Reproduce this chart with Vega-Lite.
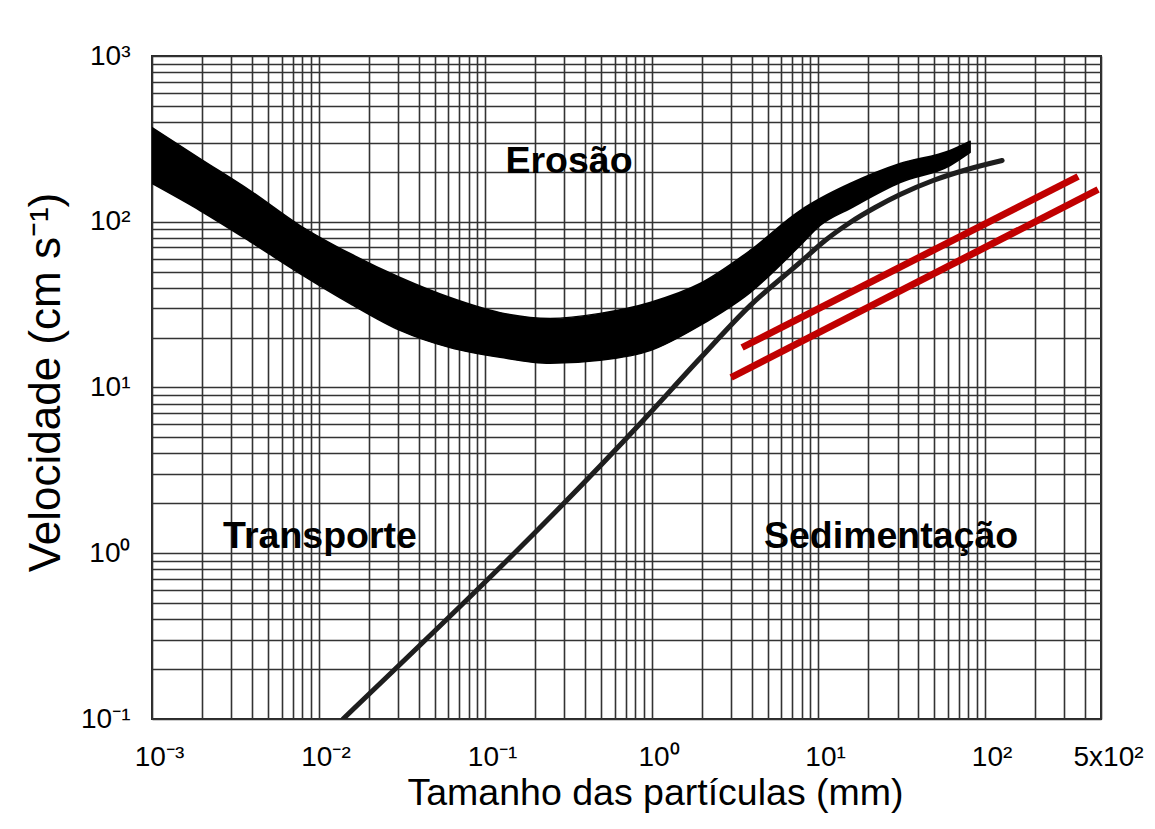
{
  "$schema": "https://vega.github.io/schema/vega-lite/v6.json",
  "autosize": {"type": "none"},
  "padding": {"left": 152, "top": 56, "right": 54, "bottom": 110},
  "width": 949,
  "height": 663,
  "background": "white",
  "config": {
    "view": {"stroke": "#2a2a2a", "strokeWidth": 2},
    "font": "Liberation Sans",
    "axis": {
      "domain": false,
      "ticks": false,
      "grid": true,
      "gridColor": "#333333",
      "gridWidth": 1.6,
      "gridOpacity": 1,
      "labelFont": "Liberation Sans",
      "labelColor": "#000000",
      "labelOverlap": false,
      "labelFlush": false,
      "labelBound": false,
      "titleFont": "Liberation Sans",
      "titleFontWeight": "normal",
      "titleColor": "#000000"
    }
  },
  "datasets": {
    "band": [
      {"d": 0.001, "lo": 170.1, "hi": 370.3},
      {"d": 0.00194, "lo": 116.9, "hi": 240.7},
      {"d": 0.00388, "lo": 76.0, "hi": 154.3},
      {"d": 0.00774, "lo": 48.7, "hi": 94.9},
      {"d": 0.01546, "lo": 32.1, "hi": 64.3},
      {"d": 0.03087, "lo": 22.1, "hi": 46.1},
      {"d": 0.06163, "lo": 17.4, "hi": 34.9},
      {"d": 0.1231, "lo": 15.2, "hi": 28.3},
      {"d": 0.2457, "lo": 14.0, "hi": 26.1},
      {"d": 0.4906, "lo": 14.6, "hi": 28.0},
      {"d": 0.9795, "lo": 16.7, "hi": 32.6},
      {"d": 1.956, "lo": 23.7, "hi": 42.4},
      {"d": 3.905, "lo": 37.4, "hi": 67.1},
      {"d": 7.797, "lo": 71.9, "hi": 116.9},
      {"d": 10.28, "lo": 94.9, "hi": 138.1},
      {"d": 15.57, "lo": 120.2, "hi": 170.1},
      {"d": 31.09, "lo": 172.5, "hi": 224.6},
      {"d": 62.07, "lo": 218.5, "hi": 269.1},
      {"d": 81.86, "lo": 262.0, "hi": 306.0}
    ],
    "sed": [
      {"d": 0.01403, "v": 0.1},
      {"d": 0.889, "v": 6.32},
      {"d": 1.956, "v": 15.0},
      {"d": 3.905, "v": 31.2},
      {"d": 7.797, "v": 56.8},
      {"d": 11.02, "v": 77.1},
      {"d": 15.57, "v": 99.0},
      {"d": 22.0, "v": 121.9},
      {"d": 31.09, "v": 146.0},
      {"d": 49.06, "v": 177.4},
      {"d": 78.5, "v": 206.7},
      {"d": 127.4, "v": 234.1}
    ],
    "red": [
      {"s": "a", "d": 3.496, "v": 17.43},
      {"s": "a", "d": 364.5, "v": 187.5},
      {"s": "b", "d": 3.003, "v": 11.49},
      {"s": "b", "d": 480.5, "v": 156.5}
    ],
    "labels": [
      {"t": "Erosão", "d": 0.3194, "v": 227.8},
      {"t": "Transporte", "d": 0.01021, "v": 1.245},
      {"t": "Sedimentação", "d": 27.44, "v": 1.245}
    ]
  },
  "layer": [
    {
      "data": {"name": "band"},
      "mark": {"type": "area", "color": "#000000", "stroke": "#000000", "strokeWidth": 1.5, "strokeJoin": "round", "interpolate": "monotone", "clip": true},
      "encoding": {
        "x": {
          "field": "d", "type": "quantitative",
          "scale": {"type": "log", "domain": [0.001, 500], "nice": false},
          "axis": {
            "values": [0.001,0.002,0.003,0.004,0.005,0.006,0.007,0.008,0.009,0.01,0.02,0.03,0.04,0.05,0.06,0.07,0.08,0.09,0.1,0.2,0.3,0.4,0.5,0.6,0.7,0.8,0.9,1,2,3,4,5,6,7,8,9,10,20,30,40,50,60,70,80,90,100,200,300,400,500],
            "labelExpr": "datum.value == 0.001 ? '10⁻³' : datum.value == 0.01 ? '10⁻²' : datum.value == 0.1 ? '10⁻¹' : datum.value == 1 ? '10⁰' : datum.value == 10 ? '10¹' : datum.value == 100 ? '10²' : datum.value == 500 ? '5x10²' : ''",
            "labelFontSize": 28,
            "labelAlign": "center",
            "labelBaseline": "top",
            "labelOffset": 7,
            "labelPadding": 24,
            "title": "Tamanho das partículas (mm)",
            "titleFontSize": 37.5,
            "titleX": 503,
            "titleY": 74,
            "titleAnchor": "middle",
            "titleAlign": "center",
            "titleBaseline": "middle"
          }
        },
        "y": {
          "field": "lo", "type": "quantitative",
          "scale": {"type": "log", "domain": [0.1, 1000], "nice": false},
          "axis": {
            "values": [0.1,0.2,0.3,0.4,0.5,0.6,0.7,0.8,0.9,1,2,3,4,5,6,7,8,9,10,20,30,40,50,60,70,80,90,100,200,300,400,500,600,700,800,900,1000],
            "labelExpr": "datum.value == 0.1 ? '10⁻¹' : datum.value == 1 ? '10⁰' : datum.value == 10 ? '10¹' : datum.value == 100 ? '10²' : datum.value == 1000 ? '10³' : ''",
            "labelFontSize": 28,
            "labelAlign": "right",
            "labelBaseline": "middle",
            "labelPadding": 22,
            "title": "Velocidade (cm s⁻¹)",
            "titleFontSize": 44,
            "titleAngle": -90,
            "titleX": -106,
            "titleY": 326,
            "titleAlign": "center",
            "titleBaseline": "middle"
          }
        },
        "y2": {"field": "hi"}
      }
    },
    {
      "data": {"name": "sed"},
      "mark": {"type": "line", "color": "#1e1e1e", "strokeWidth": 5, "strokeCap": "round", "interpolate": "monotone", "clip": true},
      "encoding": {
        "x": {"field": "d", "type": "quantitative"},
        "y": {"field": "v", "type": "quantitative"}
      }
    },
    {
      "data": {"name": "red"},
      "mark": {"type": "line", "color": "#c00000", "strokeWidth": 7, "strokeCap": "butt"},
      "encoding": {
        "x": {"field": "d", "type": "quantitative"},
        "y": {"field": "v", "type": "quantitative"},
        "detail": {"field": "s"}
      }
    },
    {
      "data": {"name": "labels"},
      "mark": {"type": "text", "font": "Liberation Sans", "fontWeight": "bold", "fontSize": 37.5, "color": "#000000", "align": "center", "baseline": "middle"},
      "encoding": {
        "x": {"field": "d", "type": "quantitative"},
        "y": {"field": "v", "type": "quantitative"},
        "text": {"field": "t"}
      }
    }
  ]
}
